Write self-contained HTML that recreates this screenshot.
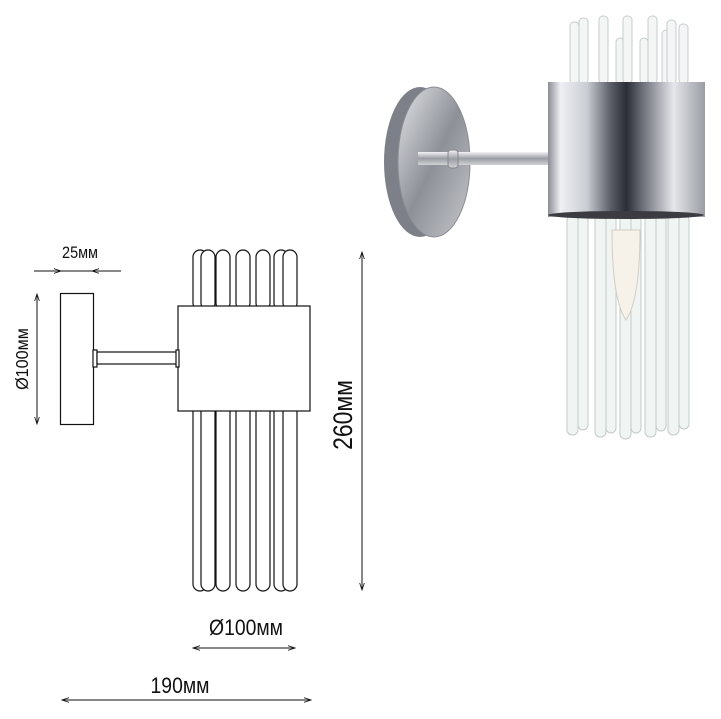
<!DOCTYPE html>
<html><head><meta charset="utf-8"><style>
html,body{margin:0;padding:0;background:#fff;}
svg{display:block;}
text{font-family:"Liberation Sans",sans-serif;fill:#111;}
</style></head><body>
<svg width="721" height="719" viewBox="0 0 721 719" xmlns="http://www.w3.org/2000/svg">
<defs>
<linearGradient id="chrome" x1="0" x2="1" y1="0" y2="0">
<stop offset="0" stop-color="#8a8d94"/><stop offset="0.08" stop-color="#eef0f3"/>
<stop offset="0.25" stop-color="#c9ccd2"/><stop offset="0.4" stop-color="#5a5d66"/>
<stop offset="0.5" stop-color="#2b2e36"/><stop offset="0.6" stop-color="#6b6e77"/>
<stop offset="0.8" stop-color="#e4e6ea"/><stop offset="1" stop-color="#9a9da4"/>
</linearGradient>
<linearGradient id="plate" x1="0" x2="1" y1="0" y2="1">
<stop offset="0" stop-color="#e2e4e8"/><stop offset="0.5" stop-color="#8d9097"/><stop offset="1" stop-color="#c5c7cc"/>
</linearGradient>
<linearGradient id="arm" x1="0" x2="0" y1="0" y2="1">
<stop offset="0" stop-color="#f2f3f5"/><stop offset="0.5" stop-color="#9a9da3"/><stop offset="1" stop-color="#d0d2d6"/>
</linearGradient>
<marker id="ah" viewBox="0 0 10 10" refX="9" refY="5" markerWidth="8" markerHeight="8" orient="auto-start-reverse"><path d="M0,2 L9,5 L0,8" fill="none" stroke="#111" stroke-width="1"/></marker>
</defs>

<g fill="#fff" stroke="#111" stroke-width="1.2">
<g>
<rect x="193" y="250" width="14" height="60" rx="7"/>
<rect x="201" y="250" width="14" height="60" rx="7"/>
<rect x="216" y="250" width="14" height="60" rx="7"/>
<rect x="236" y="250" width="14" height="60" rx="7"/>
<rect x="256" y="250" width="14" height="60" rx="7"/>
<rect x="274" y="250" width="14" height="60" rx="7"/>
<rect x="283" y="250" width="14" height="60" rx="7"/>
</g>
<g>
<rect x="193" y="400" width="14" height="191" rx="7"/>
<rect x="201" y="400" width="14" height="191" rx="7"/>
<rect x="216" y="400" width="14" height="191" rx="7"/>
<rect x="236" y="400" width="14" height="191" rx="7"/>
<rect x="256" y="400" width="14" height="191" rx="7"/>
<rect x="274" y="400" width="14" height="191" rx="7"/>
<rect x="283" y="400" width="14" height="191" rx="7"/>
</g>
<rect x="178" y="306" width="132" height="105"/>
<rect x="60.5" y="293.5" width="33" height="131"/>
<rect x="93" y="350" width="4" height="17"/>
<rect x="97" y="352" width="80" height="12"/>
<rect x="176" y="350" width="3" height="17"/>
</g>

<g stroke="#111" stroke-width="1" fill="none">
<line x1="34" y1="271" x2="61" y2="271" marker-end="url(#ah)"/>
<line x1="121" y1="271" x2="92" y2="271" marker-end="url(#ah)"/>
<line x1="60" y1="271" x2="94" y2="271"/>
<line x1="37" y1="294" x2="37" y2="424" marker-start="url(#ah)" marker-end="url(#ah)"/>
<line x1="362" y1="252" x2="362" y2="590" marker-start="url(#ah)" marker-end="url(#ah)"/>
<line x1="193" y1="648" x2="295" y2="648" marker-start="url(#ah)" marker-end="url(#ah)"/>
<line x1="62" y1="700" x2="311" y2="700" marker-start="url(#ah)" marker-end="url(#ah)"/>
</g>
<text transform="translate(80,258) scale(0.85,1)" font-size="17" text-anchor="middle">25мм</text>
<text transform="translate(28,359) rotate(-90) scale(0.9,1)" font-size="18" text-anchor="middle">Ø100мм</text>
<text transform="translate(352,415) rotate(-90) scale(0.85,1)" font-size="27" text-anchor="middle">260мм</text>
<text transform="translate(246,635) scale(0.88,1)" font-size="22" text-anchor="middle">Ø100мм</text>
<text transform="translate(180,693) scale(0.88,1)" font-size="22" text-anchor="middle">190мм</text>

<g>
<g fill="#f3f6f5" stroke="#c6cecd" stroke-width="1">
<rect x="570" y="22" width="9" height="62" rx="4"/>
<rect x="579" y="18" width="9" height="66" rx="4"/>
<rect x="599" y="16" width="9" height="68" rx="4"/>
<rect x="616" y="38" width="8" height="46" rx="4"/>
<rect x="623" y="16" width="9" height="68" rx="4"/>
<rect x="640" y="38" width="8" height="46" rx="4"/>
<rect x="648" y="16" width="9" height="68" rx="4"/>
<rect x="662" y="30" width="8" height="54" rx="4"/>
<rect x="667" y="20" width="9" height="64" rx="4"/>
<rect x="679" y="24" width="9" height="60" rx="4"/>
</g>
<g fill="#f0f4f3" stroke="#c2cbca" stroke-width="1">
<rect x="567" y="215" width="11" height="220" rx="5"/>
<rect x="578" y="215" width="10" height="215" rx="5"/>
<rect x="595" y="215" width="11" height="222" rx="5"/>
<rect x="606" y="215" width="10" height="218" rx="5"/>
<rect x="620" y="215" width="11" height="224" rx="5"/>
<rect x="631" y="215" width="10" height="218" rx="5"/>
<rect x="645" y="215" width="11" height="222" rx="5"/>
<rect x="656" y="215" width="10" height="216" rx="5"/>
<rect x="668" y="215" width="11" height="220" rx="5"/>
<rect x="679" y="215" width="10" height="214" rx="5"/>
</g>
<path d="M612,230 Q612,300 626,320 Q640,300 640,230 Z" fill="#f6f2ea" stroke="#d3cdc2"/>
<ellipse cx="420" cy="162" rx="36" ry="75" fill="#7d8088"/>
<ellipse cx="434" cy="162" rx="36" ry="75" fill="url(#plate)" stroke="#8a8d94"/>
<rect x="418" y="152" width="136" height="13" fill="url(#arm)"/>
<rect x="448" y="150" width="10" height="18" rx="3" fill="url(#arm)" stroke="#888"/>
<rect x="548" y="82" width="157" height="135" fill="url(#chrome)"/>
<ellipse cx="626" cy="215" rx="78" ry="4" fill="#3a3c42"/>
</g>
</svg>
</body></html>
